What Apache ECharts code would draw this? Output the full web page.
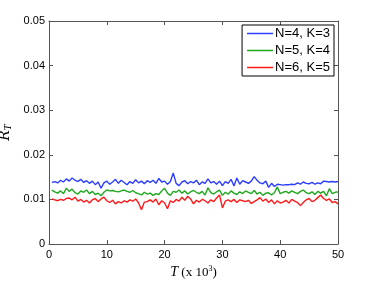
<!DOCTYPE html>
<html><head><meta charset="utf-8">
<script src="https://cdn.jsdelivr.net/npm/echarts@6/dist/echarts.min.js"></script>
<style>html,body{margin:0;padding:0;background:#fff}#c{width:374px;height:281px}</style>
</head><body><div id="c"></div>
<script>
var T = [];
for (var i = 1; i <= 100; i++) T.push(i * 0.5);
var seriesNames = ['N=4, K=3', 'N=5, K=4', 'N=6, K=5'];
var blue = [
0.0138,0.0140,0.0137,0.0143,0.0139,0.0146,0.0141,0.0148,0.0143,0.0140,
0.0145,0.0138,0.0142,0.0136,0.0141,0.0133,0.0139,0.0125,0.0137,0.0141,
0.0134,0.0139,0.0145,0.0136,0.0143,0.0138,0.0133,0.0140,0.0136,0.0144,
0.0137,0.0141,0.0135,0.0142,0.0138,0.0143,0.0136,0.0147,0.0139,0.0141,
0.0134,0.0140,0.0159,0.0136,0.0131,0.0139,0.0142,0.0135,0.0140,0.0137,
0.0143,0.0133,0.0139,0.0136,0.0146,0.0137,0.0140,0.0134,0.0141,0.0131,
0.0140,0.0136,0.0145,0.0130,0.0148,0.0134,0.0142,0.0139,0.0136,0.0141,
0.0151,0.0143,0.0137,0.0135,0.0141,0.0127,0.0136,0.0129,0.0134,0.0133,
0.0132,0.0133,0.0133,0.0134,0.0133,0.0137,0.0134,0.0139,0.0136,0.0135,
0.0138,0.0134,0.0137,0.0135,0.0141,0.0140,0.0139,0.0140,0.0139,0.0140];
var green = [
0.0121,0.0117,0.0114,0.0119,0.0113,0.0125,0.0118,0.0123,0.0115,0.0112,
0.0119,0.0116,0.0121,0.0113,0.0118,0.0111,0.0114,0.0108,0.0116,0.0121,
0.0119,0.0120,0.0118,0.0117,0.0119,0.0121,0.0118,0.0116,0.0120,0.0115,
0.0113,0.0110,0.0116,0.0112,0.0114,0.0109,0.0113,0.0111,0.0119,0.0125,
0.0114,0.0109,0.0118,0.0116,0.0121,0.0114,0.0119,0.0112,0.0117,0.0120,
0.0116,0.0113,0.0118,0.0110,0.0126,0.0115,0.0112,0.0117,0.0121,0.0109,
0.0116,0.0112,0.0119,0.0114,0.0111,0.0117,0.0113,0.0119,0.0116,0.0113,
0.0120,0.0112,0.0116,0.0109,0.0114,0.0115,0.0110,0.0115,0.0128,0.0113,
0.0116,0.0118,0.0114,0.0119,0.0116,0.0113,0.0118,0.0121,0.0115,0.0113,
0.0117,0.0111,0.0118,0.0114,0.0118,0.0108,0.0124,0.0113,0.0116,0.0117];
var red = [
0.0101,0.0099,0.0097,0.0100,0.0098,0.0102,0.0103,0.0099,0.0105,0.0096,
0.0100,0.0094,0.0098,0.0092,0.0099,0.0102,0.0095,0.0101,0.0105,0.0097,
0.0093,0.0098,0.0090,0.0095,0.0092,0.0097,0.0094,0.0099,0.0096,0.0101,
0.0092,0.0077,0.0094,0.0095,0.0099,0.0094,0.0101,0.0088,0.0097,0.0092,
0.0079,0.0097,0.0093,0.0100,0.0096,0.0105,0.0098,0.0107,0.0101,0.0090,
0.0098,0.0094,0.0100,0.0097,0.0092,0.0099,0.0095,0.0103,0.0110,0.0081,
0.0096,0.0099,0.0095,0.0100,0.0093,0.0099,0.0097,0.0095,0.0098,0.0091,
0.0095,0.0099,0.0104,0.0096,0.0101,0.0093,0.0099,0.0090,0.0097,0.0092,
0.0094,0.0098,0.0092,0.0100,0.0096,0.0093,0.0086,0.0093,0.0099,0.0102,
0.0095,0.0098,0.0104,0.0110,0.0102,0.0098,0.0101,0.0093,0.0095,0.0090];
var xTicks = [0, 10, 20, 30, 40, 50];
var yTicks = [0, 0.01, 0.02, 0.03, 0.04, 0.05];

function pairs(v) { return T.map(function (t, i) { return [t, v[i]]; }); }
var axisCol = '#555';
var lab = { color: '#000', fontFamily: 'Liberation Sans', fontSize: 11 };
var chart = echarts.init(document.getElementById('c'), null, { renderer: 'canvas' });
chart.setOption({
  animation: false,
  grid: { left: 49, right: 36, top: 21, bottom: 37, show: false, containLabel: false, outerBoundsMode: 'none' },
  legend: {
    data: seriesNames, orient: 'vertical', right: 40, top: 25,
    icon: 'rect', backgroundColor: '#fff', borderColor: '#000', borderWidth: 1,
    padding: [2, 4, 2, 5], itemGap: 4, itemWidth: 26, itemHeight: 1.5,
    textStyle: { fontFamily: 'Liberation Sans', fontSize: 13, lineHeight: 13, color: '#000', padding: [0, 0, 0, -3] }
  },
  xAxis: [{
    type: 'value', min: xTicks[0], max: xTicks[xTicks.length - 1], interval: 10,
    axisLine: { onZero: false, lineStyle: { color: axisCol } },
    axisTick: { inside: true, length: 4, lineStyle: { color: axisCol } },
    axisLabel: Object.assign({ margin: 5 }, lab), splitLine: { show: false },
    name: '{i|T} {n|(x 10}{s|3}{n|)}', nameLocation: 'middle', nameGap: 21,
    nameTextStyle: { rich: {
      i: { fontFamily: 'Liberation Serif', fontStyle: 'italic', fontSize: 14, color: '#000' },
      n: { fontFamily: 'Liberation Serif', fontSize: 13, color: '#000' },
      s: { fontFamily: 'Liberation Serif', fontSize: 8, color: '#000', verticalAlign: 'top', padding: [0, 0, 7, 0] } } }
  }, {
    type: 'value', position: 'top', min: 0, max: 50, interval: 10,
    axisLine: { onZero: false, lineStyle: { color: axisCol } },
    axisTick: { inside: true, length: 4, lineStyle: { color: axisCol } },
    axisLabel: { show: false }, splitLine: { show: false }
  }],
  yAxis: [{
    type: 'value', min: yTicks[0], max: yTicks[yTicks.length - 1], interval: 0.01,
    axisLine: { show: true, onZero: false, lineStyle: { color: axisCol } },
    axisTick: { show: true, inside: true, length: 4, lineStyle: { color: axisCol } },
    axisLabel: Object.assign({ margin: 4, formatter: function (v) { return v === 0 ? '0' : v.toFixed(2); } }, lab),
    splitLine: { show: false },
    name: '{i|R\u0304}{s|T}', nameLocation: 'middle', nameGap: 28, nameRotate: 90,
    nameTextStyle: { rich: {
      i: { fontFamily: 'DejaVu Serif', fontStyle: 'italic', fontSize: 14, color: '#000' },
      s: { fontFamily: 'DejaVu Serif', fontStyle: 'italic', fontSize: 9, color: '#000', verticalAlign: 'bottom', padding: [5, 0, 0, 0] } } }
  }, {
    type: 'value', position: 'right', min: 0, max: 0.05, interval: 0.01,
    axisLine: { show: true, onZero: false, lineStyle: { color: axisCol } },
    axisTick: { show: true, inside: true, length: 4, lineStyle: { color: axisCol } },
    axisLabel: { show: false }, splitLine: { show: false }
  }],
  series: [
    { name: seriesNames[0], type: 'line', data: pairs(blue), symbol: 'none', color: '#2b3dff', lineStyle: { width: 1.4 } },
    { name: seriesNames[1], type: 'line', data: pairs(green), symbol: 'none', color: '#1ea81e', lineStyle: { width: 1.4 } },
    { name: seriesNames[2], type: 'line', data: pairs(red), symbol: 'none', color: '#ff1a1a', lineStyle: { width: 1.4 } }
  ]
});
</script></body></html>
